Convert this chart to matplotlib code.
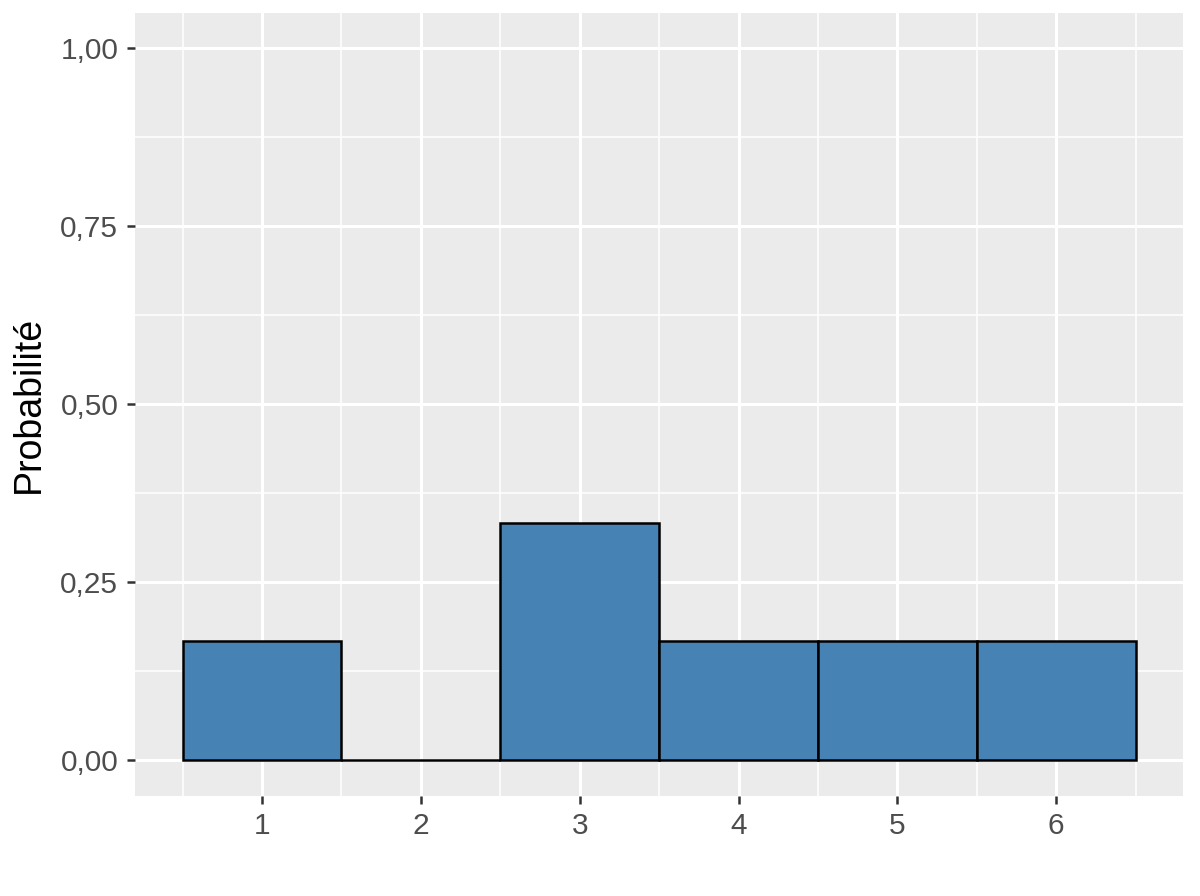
import matplotlib.pyplot as plt
import numpy as np

faces = [1, 2, 3, 4, 5, 6]
probs = [1/6, 0, 1/3, 1/6, 1/6, 1/6]
y_ticks = [0, 0.25, 0.5, 0.75, 1.0]
y_labels = ['0,00', '0,25', '0,50', '0,75', '1,00']

plt.rcParams['font.family'] = ['Liberation Sans', 'DejaVu Sans']

fig = plt.figure(figsize=(12, 8.96), dpi=100)
ax = fig.add_axes([0.1125, 0.112, 0.8735, 0.874])
ax.set_facecolor('#EBEBEB')

ax.set_xlim(0.2, 6.8)
ax.set_ylim(-0.05, 1.05)

# grid: major + minor, ggplot style
for x in faces:
    ax.axvline(x, color='white', lw=2.2, zorder=0)
for x in np.arange(0.5, 7, 1):
    ax.axvline(x, color='white', lw=1.1, zorder=0)
for y in y_ticks:
    ax.axhline(y, color='white', lw=2.2, zorder=0)
for y in [0.125, 0.375, 0.625, 0.875]:
    ax.axhline(y, color='white', lw=1.1, zorder=0)

ax.bar(faces, probs, width=1.0, color='#4682B4', edgecolor='black', linewidth=1.8, zorder=2)

ax.set_xticks(faces)
ax.set_xticklabels([str(f) for f in faces])
ax.set_yticks(y_ticks)
ax.set_yticklabels(y_labels)
ax.tick_params(axis='both', length=6, width=1.8, color='#333333', labelcolor='#4D4D4D',
               labelsize=21.5, pad=6)

for s in ax.spines.values():
    s.set_visible(False)

ax.set_ylabel('Probabilité', fontsize=27, color='black', labelpad=10)

fig.savefig('out.png', dpi=100)
